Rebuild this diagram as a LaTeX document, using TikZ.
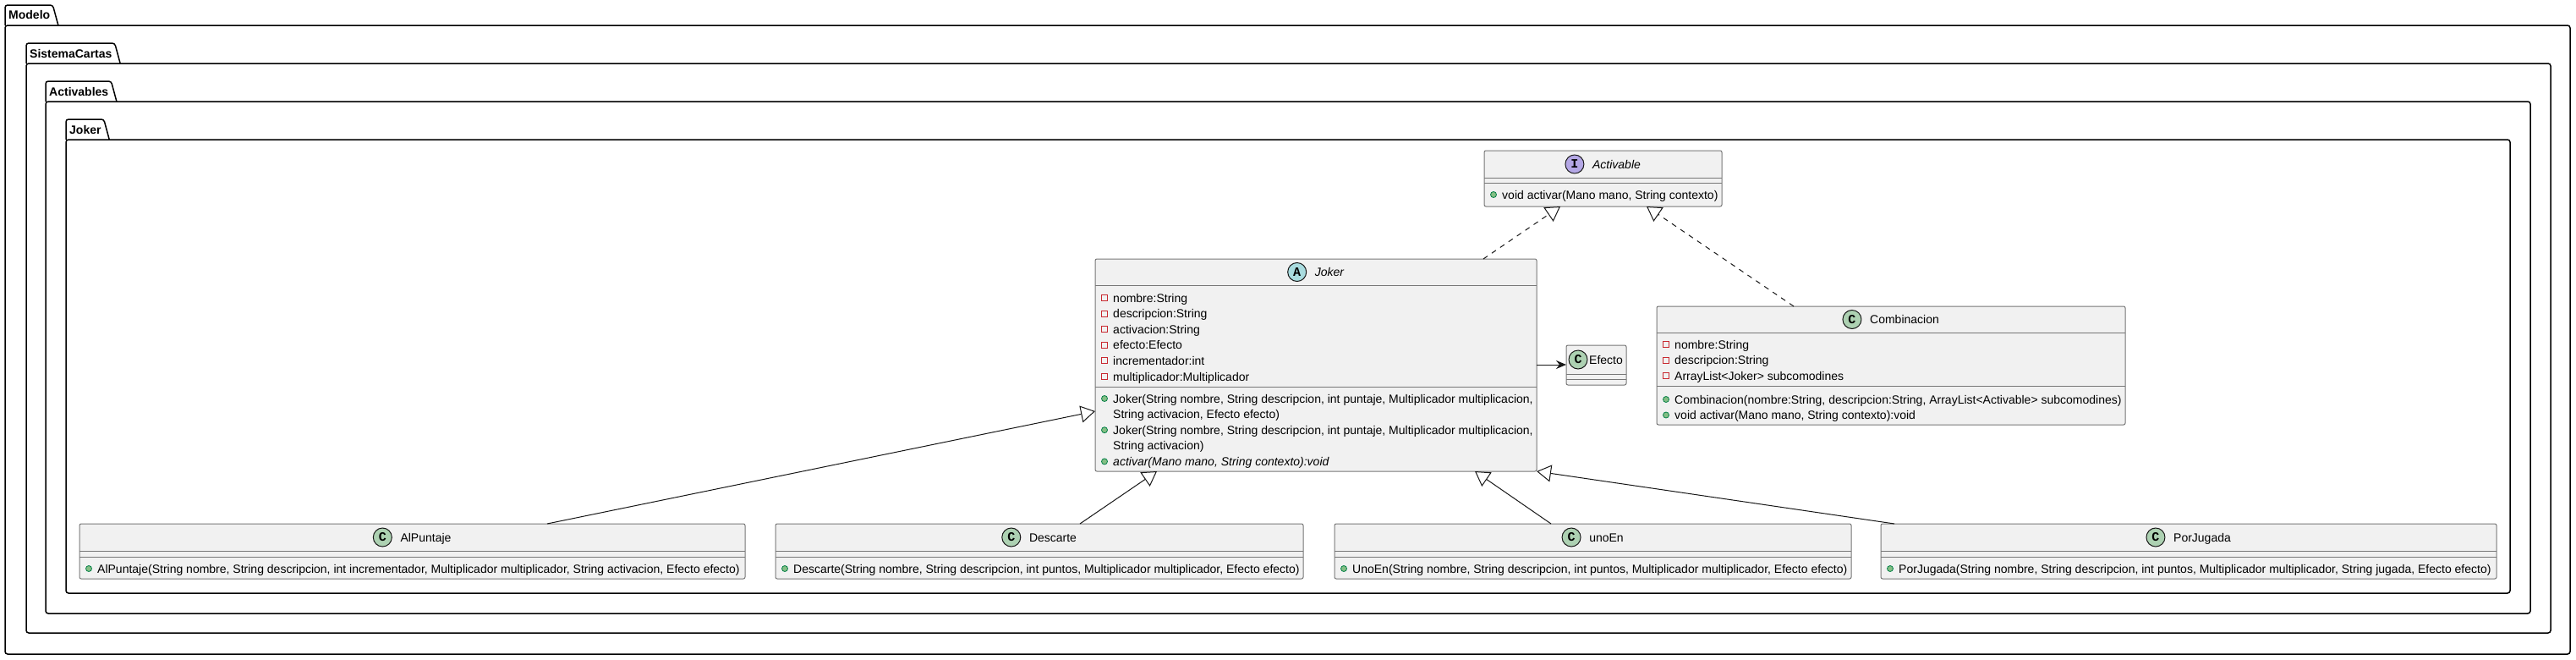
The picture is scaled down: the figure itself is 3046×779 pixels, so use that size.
\documentclass[tikz,border=0pt]{standalone}
\usepackage{fontspec}
\setmainfont{Liberation Sans}
\newfontfamily\iconfont{Liberation Mono}
\usetikzlibrary{arrows.meta,calc}
\definecolor{boxfill}{HTML}{F1F1F1}
\definecolor{lineC}{HTML}{181818}
\definecolor{boxline}{HTML}{777777}
\definecolor{privred}{HTML}{C82930}
\definecolor{pubfill}{HTML}{84BE84}
\definecolor{pubdraw}{HTML}{038048}
\definecolor{icI}{HTML}{B4A7E5}
\definecolor{icA}{HTML}{A9DCDF}
\definecolor{icC}{HTML}{ADD1B2}
\tikzset{
  pkgline/.style={draw=black,line width=1.5pt,rounded corners=3pt},
  pkglabel/.style={anchor=base west,inner sep=0pt,font=\fontsize{14}{16}\selectfont\bfseries},
  classbox/.style={rectangle,draw=boxline,fill=boxfill,line width=1pt,rounded corners=2pt,inner sep=0pt,outer sep=0pt},
  sepline/.style={draw=boxline,line width=1pt},
  titletext/.style={anchor=base,inner sep=0pt},
  iconcirc/.style={circle,minimum size=22pt,inner sep=0pt,draw=lineC,line width=1pt,font=\iconfont\bfseries\fontsize{15}{15}\selectfont},
  mtext/.style={anchor=base west,inner sep=0pt},
  privsq/.style={rectangle,minimum size=7pt,inner sep=0pt,draw=privred,line width=1pt},
  pubdot/.style={circle,minimum size=7pt,inner sep=0pt,fill=pubfill,draw=pubdraw,line width=0.8pt},
  realize/.style={draw=lineC,line width=1pt,dash pattern=on 6pt off 6pt,-{Triangle[open,length=17pt,width=20pt]}},
  extend/.style={draw=lineC,line width=1pt,-{Triangle[open,length=17pt,width=20pt]}},
  assoc/.style={draw=lineC,line width=1pt,-{Stealth[length=12pt,width=10pt,inset=4pt]}}
}
\newcommand\umlpkg[7]{%
  \node[pkglabel] (#1) at ({#2+4},{#3+17}) {#7};
  \coordinate (#1-tt) at (#2,#3);
  \coordinate (#1-bt) at (#2,#4);
  \coordinate (#1-ea) at ([xshift=3pt]#1.east);
  \coordinate (#1-eb) at ([xshift=9.5pt]#1.east);
  \draw[pkgline] (#1-bt) -- (#1-tt) -- (#1-ea |- #1-tt) -- (#1-eb |- #1-bt);
  \draw[pkgline] (#1-bt) rectangle (#5,#6);}
\newcommand\umlbox[7]{%
  \node[classbox,anchor=north west,minimum width={#4-#2},minimum height={#5-#3}] (#1) at (#2,#3) {};
  \draw[sepline] (#2,#6) -- (#4,#6);
  \draw[sepline] (#2,#7) -- (#4,#7);}
\newcommand\umltitle[6]{%
  \node[titletext] (#1-name) at ({#2+16},{#3+5}) {#6};
  \node[iconcirc,fill=#4] (#1-icon) at ([xshift=-21pt,yshift=5pt]#1-name.base west) {#5};}
\newcommand\privm[4]{%
  \node[privsq] (#1s) at ({#2+11},#3) {};
  \node[mtext] (#1) at ({#2+21},{#3+5}) {#4};}
\newcommand\pubm[4]{%
  \node[pubdot] (#1s) at ({#2+11},#3) {};
  \node[mtext] (#1) at ({#2+21},{#3+5}) {#4};}
\newcommand\contm[4]{%
  \node[mtext] (#1) at ({#2+21},{#3+5}) {#4};}
\begin{document}
\begin{tikzpicture}[x=1pt,y=-1pt,font=\fontsize{14}{16}\selectfont]
\path[use as bounding box,fill=white] (0,0) rectangle (3046,779);

% packages
\umlpkg{pkgModelo}{6}{6}{30}{3039}{773}{Modelo}
\umlpkg{pkgSistema}{31}{51}{75}{3016}{748}{SistemaCartas}
\umlpkg{pkgActivables}{54}{96}{120}{2992}{725}{Activables}
\umlpkg{pkgJoker}{78}{141}{165}{2968}{701}{Joker}

% Activable
\umlbox{act}{1755}{178}{2036}{244}{210}{216}
\umltitle{act}{1895.5}{194}{icI}{I}{\itshape Activable}
\pubm{am1}{1755}{230}{void activar(Mano mano, String contexto)}

% Joker
\umlbox{joker}{1295}{306}{1817}{557}{337}{457}
\umltitle{joker}{1556}{321.5}{icA}{A}{\itshape Joker}
\privm{ja1}{1295}{352}{nombre:String}
\privm{ja2}{1295}{370.6}{descripcion:String}
\privm{ja3}{1295}{389.2}{activacion:String}
\privm{ja4}{1295}{407.8}{efecto:Efecto}
\privm{ja5}{1295}{426.4}{incrementador:int}
\privm{ja6}{1295}{445}{multiplicador:Multiplicador}
\pubm{jm1}{1295}{471}{Joker(String nombre, String descripcion, int puntaje, Multiplicador multiplicacion,}
\contm{jm1b}{1295}{489.6}{String activacion, Efecto efecto)}
\pubm{jm2}{1295}{508.2}{Joker(String nombre, String descripcion, int puntaje, Multiplicador multiplicacion,}
\contm{jm2b}{1295}{526.8}{String activacion)}
\pubm{jm3}{1295}{545.4}{\itshape activar(Mano mano, String contexto):void}

% Efecto
\umlbox{efecto}{1852}{408}{1923}{455}{442}{448}
\node[iconcirc,fill=icC] (efecto-icon) at (1866,425) {C};
\node[mtext] (efecto-name) at (1879,430) {Efecto};

% Combinacion
\umlbox{comb}{1959}{362}{2513}{502}{393}{456}
\umltitle{comb}{2236}{377.5}{icC}{C}{Combinacion}
\privm{ca1}{1959}{407}{nombre:String}
\privm{ca2}{1959}{425.5}{descripcion:String}
\privm{ca3}{1959}{444}{ArrayList<Joker> subcomodines}
\pubm{cm1}{1959}{472}{Combinacion(nombre:String, descripcion:String, ArrayList<Activable> subcomodines)}
\pubm{cm2}{1959}{490.5}{void activar(Mano mano, String contexto):void}

% children
\umlbox{alp}{94}{619}{881}{684}{651}{658}
\umltitle{alp}{487.5}{635}{icC}{C}{AlPuntaje}
\pubm{alpm}{94}{672}{AlPuntaje(String nombre, String descripcion, int incrementador, Multiplicador multiplicador, String activacion, Efecto efecto)}

\umlbox{desc}{917}{619}{1541}{684}{651}{658}
\umltitle{desc}{1229}{635}{icC}{C}{Descarte}
\pubm{descm}{917}{672}{Descarte(String nombre, String descripcion, int puntos, Multiplicador multiplicador, Efecto efecto)}

\umlbox{uno}{1578}{619}{2189}{684}{651}{658}
\umltitle{uno}{1883.5}{635}{icC}{C}{unoEn}
\pubm{unom}{1578}{672}{UnoEn(String nombre, String descripcion, int puntos, Multiplicador multiplicador, Efecto efecto)}

\umlbox{por}{2224}{619}{2952}{684}{651}{658}
\umltitle{por}{2588}{635}{icC}{C}{PorJugada}
\pubm{porm}{2224}{672}{PorJugada(String nombre, String descripcion, int puntos, Multiplicador multiplicador, String jugada, Efecto efecto)}

% connectors
\draw[realize] ([xshift=459pt]joker.north west) -- ([xshift=90pt]act.south west);
\draw[realize] ([xshift=162pt]comb.north west) -- ([xshift=192pt]act.south west);
\draw[assoc] ([yshift=-125pt]joker.north east) -- ([yshift=-23pt]efecto.north west);
\draw[extend] ([xshift=553pt]alp.north west) -- ([yshift=-180pt]joker.north west);
\draw[extend] ([xshift=360pt]desc.north west) -- ([xshift=73pt]joker.south west);
\draw[extend] ([xshift=256pt]uno.north west) -- ([xshift=-73pt]joker.south east);
\draw[extend] ([xshift=16pt]por.north west) -- (joker.south east);
\end{tikzpicture}
\end{document}
